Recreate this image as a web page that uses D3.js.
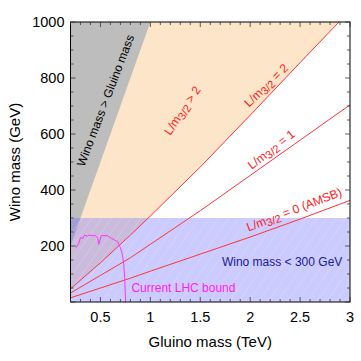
<!DOCTYPE html>
<html>
<head>
<meta charset="utf-8">
<script src="https://cdn.jsdelivr.net/npm/d3@7"></script>
<style>
  body { margin: 0; background: #fff; }
  text { font-family: "Liberation Sans", Arial, Helvetica, sans-serif; }
</style>
</head>
<body>
<div id="chart"></div>
<script>
// chart size and plot box
const width = 361;
const height = 361;
const margin = {left: 70.5, right: 11, top: 22, bottom: 60};

// data
const gluinoGrid = [0.2, 0.5, 0.8, 1.0, 1.5, 2.0, 2.5, 3.0];   // TeV
const ratio2 = [47, 140, 239, 307, 482, 667, 855, 1041];        // L/m3/2 = 2, GeV
const ratio1 = [32, 95, 158, 206, 326, 452, 578, 704];          // L/m3/2 = 1
const ratio0 = [15, 50, 85, 110, 171, 232, 296, 363];           // L/m3/2 = 0 (AMSB)
const lhcGluino = [0.255, 0.283, 0.3, 0.323, 0.34, 0.367, 0.393, 0.423, 0.45, 0.473, 0.483, 0.493, 0.507, 0.533, 0.567, 0.6, 0.643, 0.673, 0.7, 0.72, 0.733, 0.743, 0.75, 0.752];
const lhcWino =   [194, 210, 230, 227, 239, 235, 239, 237, 237, 228, 206, 218, 237, 237, 237, 230, 221, 215, 194, 170, 135, 87, 20, 0];
const winoLimit = 300;
const xTicks = [0.5, 1, 1.5, 2, 2.5, 3];
const yTicks = [200, 400, 600, 800, 1000];

const svg = d3.select("#chart")
  .append("svg")
  .attr("width", width)
  .attr("height", height);

const x = d3.scaleLinear().domain([0.2, 3]).range([margin.left, width - margin.right]);
const y = d3.scaleLinear().domain([0, 1000]).range([height - margin.bottom + 1, margin.top]);

const defs = svg.append("defs");
defs.append("clipPath").attr("id", "plotclip")
  .append("rect")
  .attr("x", x(0.2)).attr("y", y(1000))
  .attr("width", x(3) - x(0.2)).attr("height", y(0) - y(1000));

const hatch = defs.append("pattern")
  .attr("id", "hatch")
  .attr("patternUnits", "userSpaceOnUse")
  .attr("width", 8).attr("height", 8)
  .attr("patternTransform", "rotate(35)");
hatch.append("line")
  .attr("x1", 0).attr("y1", 0).attr("x2", 0).attr("y2", 8)
  .attr("stroke", "#e4e4f4").attr("stroke-width", 1).attr("opacity", 0.55);

const plot = svg.append("g").attr("clip-path", "url(#plotclip)");

// regions
const l2pts = gluinoGrid.map((g, i) => [g, ratio2[i]]);
const area = d3.line().x(d => x(d[0])).y(d => y(d[1]));

plot.append("path")
  .attr("d", area(l2pts.concat([[3, 1100], [0.2, 1100]])) + "Z")
  .attr("fill", "#fde5c9");

plot.append("path")
  .attr("d", area([[0.2, 200], [1.1, 1100], [0.2, 1100]]) + "Z")
  .attr("fill", "#bdbdbd");

plot.append("rect")
  .attr("x", x(0.2)).attr("y", y(winoLimit))
  .attr("width", x(3) - x(0.2)).attr("height", y(0) - y(winoLimit))
  .attr("fill", "rgb(102,102,255)").attr("fill-opacity", 0.34);
plot.append("rect")
  .attr("x", x(0.2)).attr("y", y(winoLimit))
  .attr("width", x(3) - x(0.2)).attr("height", y(0) - y(winoLimit))
  .attr("fill", "url(#hatch)");

// L/m3/2 lines
[ratio2, ratio1, ratio0].forEach(r => {
  plot.append("path")
    .attr("d", area(gluinoGrid.map((g, i) => [g, r[i]])))
    .attr("fill", "none")
    .attr("stroke", "#ff3333")
    .attr("stroke-width", 1);
});

// LHC bound
plot.append("path")
  .attr("d", area(lhcGluino.map((g, i) => [g, lhcWino[i]])))
  .attr("fill", "none")
  .attr("stroke", "#ff33ff")
  .attr("stroke-width", 1);

// frame and ticks
svg.append("rect")
  .attr("x", x(0.2)).attr("y", y(1000))
  .attr("width", x(3) - x(0.2)).attr("height", y(0) - y(1000))
  .attr("fill", "none").attr("stroke", "#000").attr("stroke-width", 1);

const tickG = svg.append("g").attr("stroke", "#333").attr("stroke-width", 0.8);
d3.range(0.2, 3.001, 0.1).forEach(v => {
  const major = Math.abs(v * 2 - Math.round(v * 2)) < 1e-6;
  const len = major ? 5 : 3;
  tickG.append("line").attr("x1", x(v)).attr("x2", x(v)).attr("y1", y(0)).attr("y2", y(0) - len);
  tickG.append("line").attr("x1", x(v)).attr("x2", x(v)).attr("y1", y(1000)).attr("y2", y(1000) + len);
});
d3.range(0, 1001, 50).forEach(v => {
  const len = v % 200 === 0 ? 5 : 3;
  tickG.append("line").attr("x1", x(0.2)).attr("x2", x(0.2) + len).attr("y1", y(v)).attr("y2", y(v));
  tickG.append("line").attr("x1", x(3)).attr("x2", x(3) - len).attr("y1", y(v)).attr("y2", y(v));
});

svg.selectAll(".xt").data(xTicks).enter()
  .append("text")
  .attr("x", d => x(d)).attr("y", y(0) + 20)
  .attr("text-anchor", "middle")
  .attr("font-size", "14.5px")
  .text(d => d);

svg.selectAll(".yt").data(yTicks).enter()
  .append("text")
  .attr("x", x(0.2) - 6).attr("y", d => y(d) + 5)
  .attr("text-anchor", "end")
  .attr("font-size", "14.5px")
  .text(d => d);

svg.append("text")
  .attr("x", (x(0.2) + x(3)) / 2).attr("y", 347)
  .attr("text-anchor", "middle").attr("font-size", "15px")
  .text("Gluino mass (TeV)");

svg.append("text")
  .attr("transform", `translate(20,${(y(0) + y(1000)) / 2}) rotate(-90)`)
  .attr("text-anchor", "middle").attr("font-size", "15px")
  .text("Wino mass (GeV)");

// annotations
function label(gx, wy, angle, color) {
  return svg.append("text")
    .attr("transform", `translate(${x(gx)},${y(wy)}) rotate(${angle})`)
    .attr("text-anchor", "middle")
    .attr("dy", "0.35em")
    .attr("font-size", "12px")
    .attr("fill", color);
}

label(0.55, 720, -69, "#000").text("Wino mass > Gluino mass");

function ratioLabel(gx, wy, angle, tail) {
  const t = label(gx, wy, angle, "#ff1a1a");
  t.append("tspan").text("L/m");
  t.append("tspan").attr("font-size", "11px").attr("dy", "2.5").text("3/2");
  t.append("tspan").attr("dy", "-2.5").text(tail);
}
ratioLabel(1.32, 684, -56, " > 2");
ratioLabel(2.16, 774, -44, " = 2");
ratioLabel(2.21, 545, -38, " = 1");
ratioLabel(2.44, 330, -21, " = 0 (AMSB)");

svg.append("text")
  .attr("x", x(2.32)).attr("y", y(130))
  .attr("text-anchor", "middle").attr("font-size", "12px")
  .attr("fill", "#1a1a99")
  .text("Wino mass < 300 GeV");

svg.append("text")
  .attr("x", x(0.81)).attr("y", y(36))
  .attr("text-anchor", "start").attr("font-size", "12px")
  .attr("fill", "#ff1aff")
  .text("Current LHC bound");
</script>
</body>
</html>
